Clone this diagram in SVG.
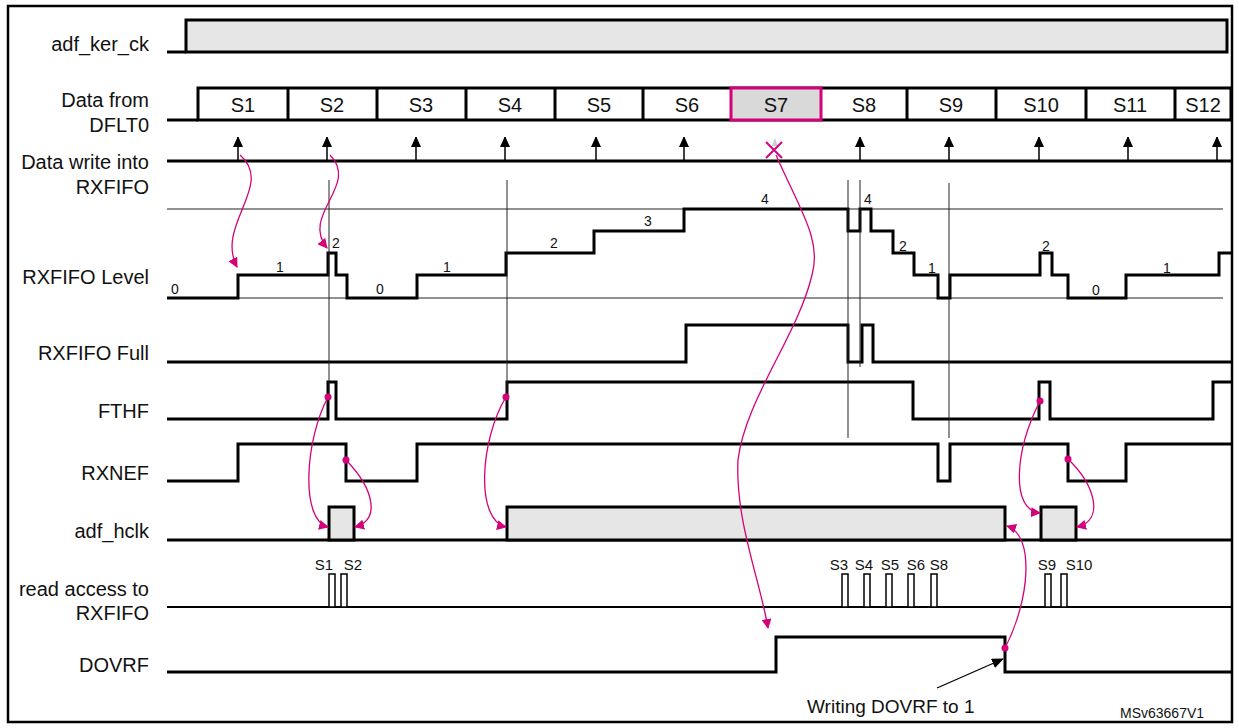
<svg xmlns="http://www.w3.org/2000/svg" width="1239" height="728" viewBox="0 0 1239 728">
<defs>
<style>
.lbl{font-family:"Liberation Sans",Arial,sans-serif;font-size:20px;fill:#111;text-anchor:end}
.s{font-family:"Liberation Sans",Arial,sans-serif;font-size:20px;fill:#111;text-anchor:middle}
.n{font-family:"Liberation Sans",Arial,sans-serif;font-size:14px;fill:#111;text-anchor:middle}
.r{font-family:"Liberation Sans",Arial,sans-serif;font-size:15px;fill:#111;text-anchor:middle}
.w{fill:none;stroke:#000;stroke-width:3}
.g{fill:#e6e6e6;stroke:#000;stroke-width:3}
.thin{stroke:#222;stroke-width:1;fill:none}
.mg{fill:none;stroke:#d6007a;stroke-width:1.3}
.dot{fill:#d6007a}
.pl{fill:#fff;stroke:#000;stroke-width:1.5}
</style>
<marker id="ma" markerWidth="10" markerHeight="10" refX="9" refY="5" orient="auto" markerUnits="userSpaceOnUse"><path d="M0,0 L10,5 L0,10 z" fill="#d6007a"/></marker>
<marker id="ka" markerWidth="12" markerHeight="10" refX="11" refY="5" orient="auto" markerUnits="userSpaceOnUse"><path d="M0,0 L12,5 L0,10 z" fill="#000"/></marker>
<marker id="up" markerWidth="10" markerHeight="12" refX="10" refY="5" orient="auto" markerUnits="userSpaceOnUse"><path d="M0,0 L11,5 L0,10 z" fill="#000"/></marker>
</defs>
<rect x="8" y="6" width="1224" height="716" fill="#fff" stroke="#000" stroke-width="2.5"/>

<g id="labels">
<text class="lbl" x="149" y="51">adf_ker_ck</text>
<text class="lbl" x="149" y="107">Data from</text>
<text class="lbl" x="149" y="132">DFLT0</text>
<text class="lbl" x="149" y="169">Data write into</text>
<text class="lbl" x="149" y="194">RXFIFO</text>
<text class="lbl" x="149" y="284">RXFIFO Level</text>
<text class="lbl" x="149" y="360">RXFIFO Full</text>
<text class="lbl" x="149" y="418">FTHF</text>
<text class="lbl" x="149" y="480">RXNEF</text>
<text class="lbl" x="149" y="538">adf_hclk</text>
<text class="lbl" x="149" y="596">read access to</text>
<text class="lbl" x="149" y="620">RXFIFO</text>
<text class="lbl" x="149" y="672">DOVRF</text>
</g>

<g id="adf_ker_ck">
<path class="w" d="M167,52 H186"/>
<rect class="g" x="186" y="20" width="1041" height="32"/>
</g>

<g id="data_dflt0">
<path class="w" d="M167,120 H198"/>
<rect x="198" y="88" width="1033" height="32" fill="#fff" stroke="#000" stroke-width="3"/>
<path class="w" d="M288,88V120 M377,88V120 M466,88V120 M555,88V120 M643,88V120 M907,88V120 M996,88V120 M1086,88V120 M1175,88V120"/>
<rect x="731" y="88" width="90" height="32" fill="#d9d9d9" stroke="#d6007a" stroke-width="3"/>
<text class="s" x="243" y="112">S1</text><text class="s" x="332" y="112">S2</text><text class="s" x="421" y="112">S3</text>
<text class="s" x="510" y="112">S4</text><text class="s" x="599" y="112">S5</text><text class="s" x="687" y="112">S6</text>
<text class="s" x="776" y="112">S7</text><text class="s" x="864" y="112">S8</text><text class="s" x="951" y="112">S9</text>
<text class="s" x="1041" y="112">S10</text><text class="s" x="1130" y="112">S11</text><text class="s" x="1203" y="112">S12</text>
</g>

<g id="data_write">
<path class="w" d="M167,161 H1231" stroke-width="2"/>
<g stroke="#000" stroke-width="1.5" marker-end="url(#up)">
<path d="M238,161V137"/><path d="M327,161V137"/><path d="M416,161V137"/><path d="M505,161V137"/><path d="M596,161V137"/><path d="M684,161V137"/>
<path d="M860,161V137"/><path d="M949,161V137"/><path d="M1039,161V137"/><path d="M1128,161V137"/><path d="M1217,161V137"/>
</g>
<path d="M775,138 l-3,8 h6 z" fill="#ccc"/>
<path d="M766,142 L782,158 M782,142 L766,158" stroke="#d6007a" stroke-width="2"/>
</g>

<g id="rxfifo_level">
<path class="thin" d="M167,209 H1223 M167,298 H1223"/>
<path class="w" d="M167,298 H238 V275 H328 V253 H336 V275 H347 V298 H417 V275 H506 V253 H594 V231 H684 V209 H848 V231 H860 V209 H871 V231 H893 V253 H914 V275 H938 V298 H950 V275 H1040 V253 H1052 V275 H1068 V298 H1126 V275 H1219 V253 H1231"/>
<text class="n" x="175" y="294">0</text><text class="n" x="280" y="272">1</text><text class="n" x="336" y="248">2</text>
<text class="n" x="380" y="294">0</text><text class="n" x="447" y="272">1</text><text class="n" x="554" y="248">2</text>
<text class="n" x="648" y="226">3</text><text class="n" x="765" y="204">4</text><text class="n" x="868" y="204">4</text>
<text class="n" x="903" y="251">2</text><text class="n" x="932" y="273">1</text><text class="n" x="1046" y="251">2</text>
<text class="n" x="1096" y="295">0</text><text class="n" x="1167" y="273">1</text>
</g>

<g id="rxfifo_full">
<path class="w" d="M167,362 H686 V325 H848 V362 H862 V325 H873 V362 H1231"/>
</g>

<g id="fthf">
<path class="w" d="M167,419 H328 V382 H336 V419 H507 V382 H913 V419 H1039 V382 H1050 V419 H1213 V382 H1231"/>
</g>

<g id="rxnef">
<path class="w" d="M167,481 H238 V444 H346 V481 H417 V444 H938 V481 H950 V444 H1068 V481 H1126 V444 H1231"/>
</g>

<g id="adf_hclk">
<path class="w" d="M167,540 H1231"/>
<rect class="g" x="329" y="507" width="25" height="33"/>
<rect class="g" x="507" y="507" width="498" height="33"/>
<rect class="g" x="1041" y="507" width="35" height="33"/>
</g>

<g id="read_access">
<path d="M167,607 H1231" stroke="#000" stroke-width="2"/>
<rect class="pl" x="329" y="574" width="6" height="33"/><rect class="pl" x="341" y="574" width="6" height="33"/>
<rect class="pl" x="842" y="574" width="6" height="33"/><rect class="pl" x="864" y="574" width="6" height="33"/>
<rect class="pl" x="886" y="574" width="6" height="33"/><rect class="pl" x="908" y="574" width="6" height="33"/>
<rect class="pl" x="931" y="574" width="6" height="33"/>
<rect class="pl" x="1045" y="574" width="6" height="33"/><rect class="pl" x="1061" y="574" width="6" height="33"/>
<text class="r" x="324" y="570">S1</text><text class="r" x="353" y="570">S2</text>
<text class="r" x="839" y="570">S3</text><text class="r" x="864" y="570">S4</text><text class="r" x="890" y="570">S5</text>
<text class="r" x="916" y="570">S6</text><text class="r" x="939" y="570">S8</text>
<text class="r" x="1047" y="570">S9</text><text class="r" x="1079" y="570">S10</text>
</g>

<g id="dovrf">
<path class="w" d="M167,672 H776 V637 H1005 V672 H1231"/>
</g>

<g id="connectors">
<path class="thin" d="M329,180 V397 M507,180 V397 M848,180 V438 M860,180 V367 M949,183 V438"/>
<path class="mg" marker-end="url(#ma)" d="M240,155 C275,185 215,225 237,267"/>
<path class="mg" marker-end="url(#ma)" d="M330,155 C360,185 300,215 327,248"/>
<path class="mg" marker-end="url(#ma)" d="M776,155 C800,210 822,240 812,275 C798,335 745,400 738,460 C735,520 760,580 768,628"/>
<circle class="dot" cx="328" cy="397" r="3.5"/>
<path class="mg" marker-end="url(#ma)" d="M328,397 C305,440 300,520 328,527"/>
<circle class="dot" cx="346" cy="460" r="3.5"/>
<path class="mg" marker-end="url(#ma)" d="M346,460 C375,490 380,520 355,527"/>
<circle class="dot" cx="506" cy="397" r="3.5"/>
<path class="mg" marker-end="url(#ma)" d="M506,397 C480,440 475,520 506,527"/>
<circle class="dot" cx="1040" cy="401" r="3.5"/>
<path class="mg" marker-end="url(#ma)" d="M1040,401 C1015,450 1010,510 1040,513"/>
<circle class="dot" cx="1068" cy="459" r="3.5"/>
<path class="mg" marker-end="url(#ma)" d="M1068,459 C1095,485 1105,520 1077,527"/>
<circle class="dot" cx="1005" cy="648" r="3.5"/>
<path class="mg" marker-end="url(#ma)" d="M1005,648 C1030,600 1035,535 1007,526"/>
<path d="M937,688 L1003,659" stroke="#000" stroke-width="1.3" marker-end="url(#ka)"/>
</g>
<text x="807" y="713" font-family="Liberation Sans, Arial, sans-serif" font-size="19" fill="#111">Writing DOVRF to 1</text>
<text x="1120" y="718" font-family="Liberation Sans, Arial, sans-serif" font-size="14" fill="#111">MSv63667V1</text>
</svg>
